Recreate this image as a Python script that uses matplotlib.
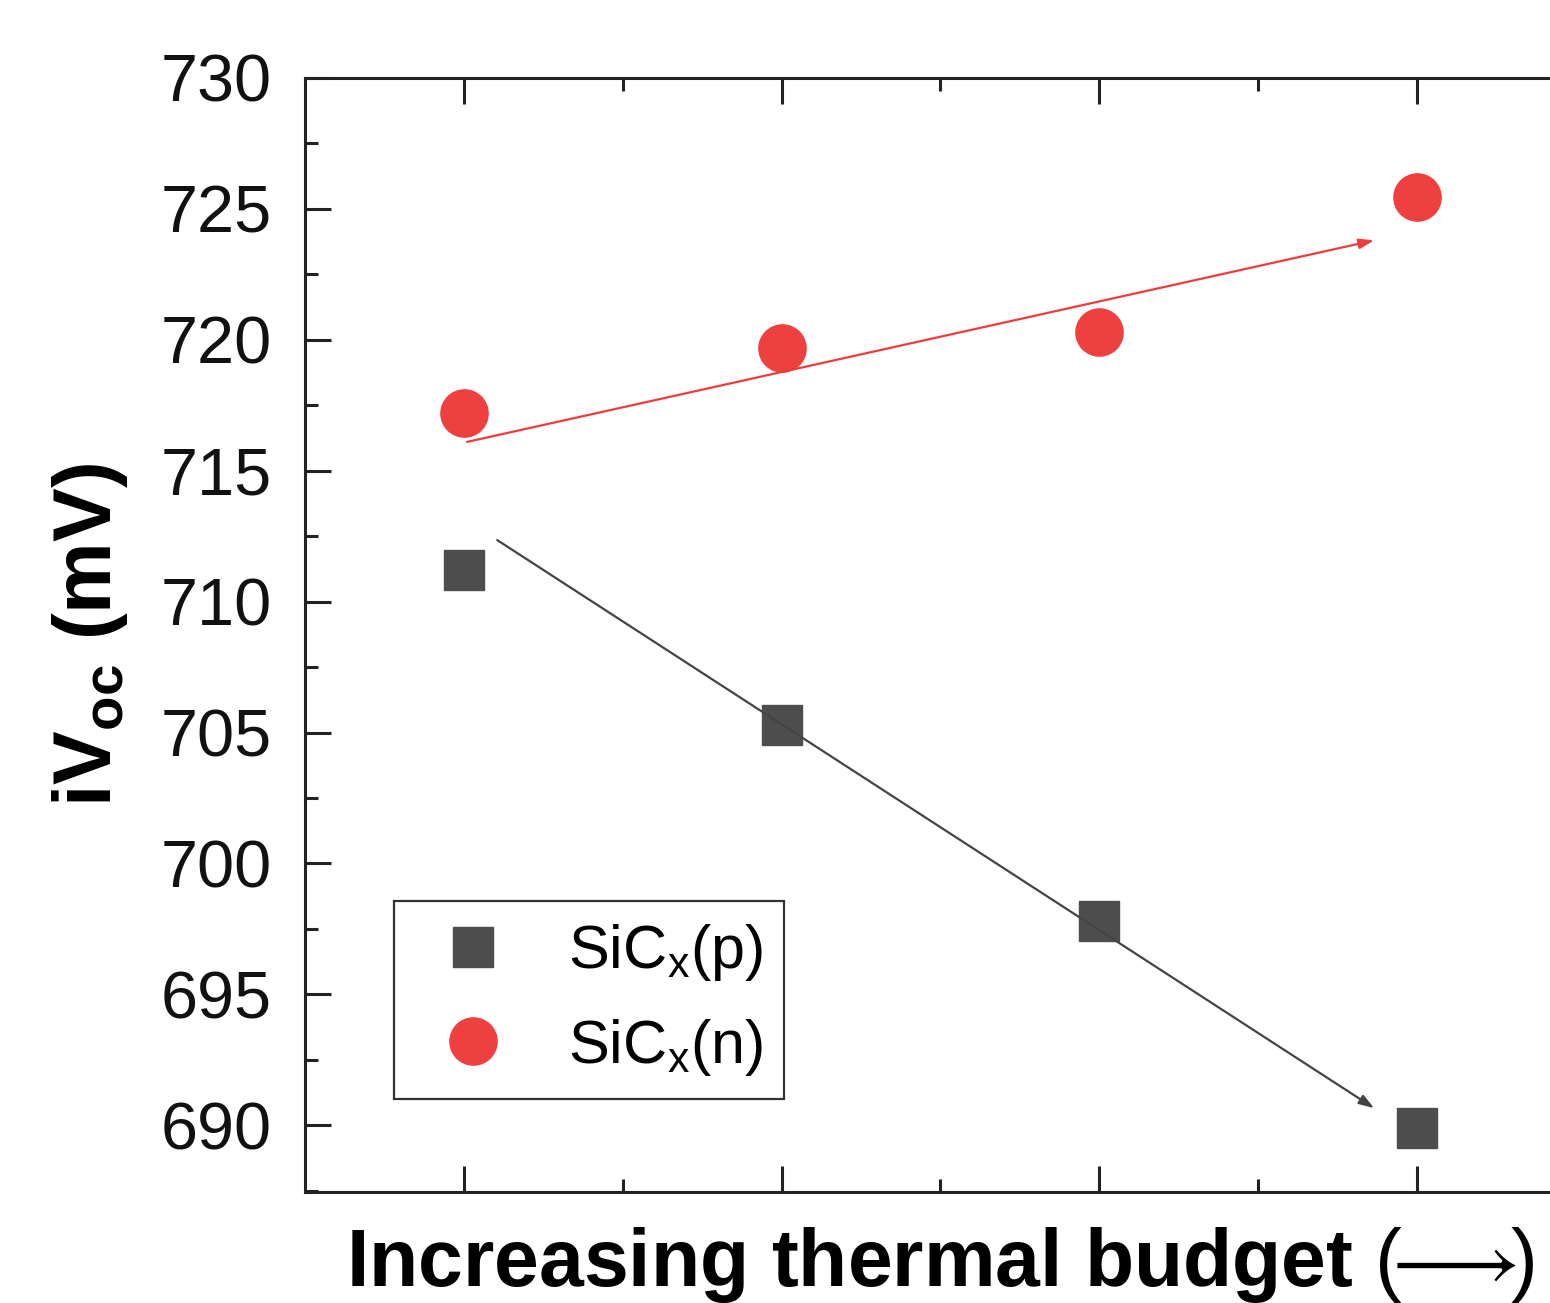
import matplotlib
matplotlib.use("Agg")
import matplotlib.pyplot as plt
from matplotlib.ticker import MultipleLocator, NullFormatter, FixedLocator

plt.rcParams['font.family'] = ['Liberation Sans', 'DejaVu Sans']
plt.rcParams['mathtext.fontset'] = 'custom'
plt.rcParams['mathtext.rm'] = 'Liberation Sans'
plt.rcParams['mathtext.it'] = 'Liberation Sans'
plt.rcParams['mathtext.bf'] = 'Liberation Sans:bold'

# data
positions = [1, 2, 3, 4]
sicx_p = [711.2, 705.3, 697.8, 689.9]
sicx_n = [717.2, 719.7, 720.3, 725.45]
labels = [r'SiC$_\mathrm{x}$(p)', r'SiC$_\mathrm{x}$(n)']
yticks = [690, 695, 700, 705, 710, 715, 720, 725, 730]
# trend arrows (start, end) in data coordinates
arrow_n = ((1.01, 716.1), (3.865, 723.8))
arrow_p = ((1.105, 712.35), (3.865, 690.65))

gray = '#4d4d4d'
red = '#ef4040'

fig = plt.figure(figsize=(15.5, 13.03), dpi=100)
ax = fig.add_axes([305/1550, 1-1192/1303, 1271/1550, 1114/1303])

ax.plot(positions, sicx_p, linestyle='none', marker='s', ms=29, color=gray,
        mec=gray, label=labels[0])
ax.plot(positions, sicx_n, linestyle='none', marker='o', ms=34, color=red,
        mec=red, label=labels[1])

ax.annotate('', xy=arrow_n[1], xytext=arrow_n[0],
            arrowprops=dict(arrowstyle='-|>,head_length=0.9,head_width=0.3',
                            color='#ee3b3b', lw=1.6, shrinkA=0, shrinkB=0))
ax.annotate('', xy=arrow_p[1], xytext=arrow_p[0],
            arrowprops=dict(arrowstyle='-|>,head_length=0.9,head_width=0.3',
                            color='#444444', lw=1.6, shrinkA=0, shrinkB=0))

ax.set_xlim(0.5, 4.5)
ax.set_ylim(687.45, 730)
ax.xaxis.set_major_locator(FixedLocator(positions))
ax.xaxis.set_minor_locator(FixedLocator([1.5, 2.5, 3.5]))
ax.xaxis.set_major_formatter(NullFormatter())
ax.yaxis.set_major_locator(FixedLocator(yticks))
ax.yaxis.set_minor_locator(MultipleLocator(2.5))

for s in ax.spines.values():
    s.set_linewidth(2.2)
    s.set_color('#222222')
ax.tick_params(which='both', direction='in', top=True, right=True,
               color='#222222', width=2.2)
ax.tick_params(which='major', length=19)
ax.tick_params(which='minor', length=9.5)
ax.tick_params(axis='y', which='major', labelsize=48, pad=24, labelcolor='#111111')

ax.set_xlabel(r'Increasing thermal budget $(\!\!\longrightarrow\!\!)$', fontsize=58,
              fontweight='bold', labelpad=20)
ax.set_ylabel(r'iV$_{\mathbf{oc}}$ (mV)', fontsize=58, fontweight='bold',
              labelpad=22)

leg = ax.legend(loc='lower left', bbox_to_anchor=(0.070, 0.0835),
                borderaxespad=0, fontsize=44, frameon=True, fancybox=False,
                edgecolor='black', handletextpad=0.6, labelspacing=0.55,
                borderpad=0.35, handlelength=1.9, markerscale=1.0)
leg.get_frame().set_linewidth(1.6)

fig.savefig('out.png', dpi=100)
